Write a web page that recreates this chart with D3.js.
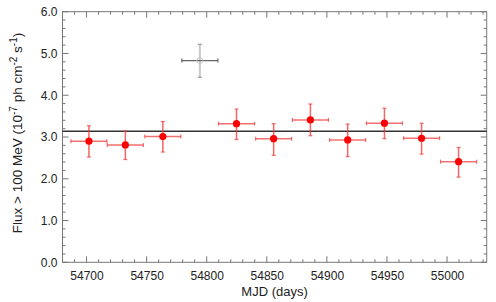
<!DOCTYPE html>
<html>
<head>
<meta charset="utf-8">
<script src="https://cdn.jsdelivr.net/npm/d3@7"></script>
<style>
  body { margin: 0; background: #fff; }
  text { font-family: "Liberation Sans", Arial, sans-serif; }
</style>
</head>
<body>
<div id="chart"></div>
<script>
// light curve bins (MJD centre, flux, errors)
const mjd = [54702, 54732.3, 54763.5, 54824.8, 54855.7, 54886.3, 54917.3, 54947.9, 54978.8, 55009.6];
const flux = [2.90, 2.81, 3.01, 3.32, 2.96, 3.41, 2.93, 3.33, 2.97, 2.41];
const fluxHi = [3.27, 3.14, 3.37, 3.67, 3.32, 3.79, 3.31, 3.69, 3.33, 2.75];
const fluxLo = [2.52, 2.46, 2.64, 2.94, 2.56, 3.03, 2.53, 2.96, 2.59, 2.04];
const halfBin = 15;

// the flagged (grey) bin
const outMjd = 54794.3, outFlux = 4.83, outHi = 5.22, outLo = 4.43;

const meanFlux = 3.14;

const xTicks = [54700, 54750, 54800, 54850, 54900, 54950, 55000];
const yTicks = [0, 1, 2, 3, 4, 5, 6];

const margin = {top: 11.7, right: 9.3, bottom: 39.7, left: 62.5},
    width = 496 - margin.left - margin.right,
    height = 302 - margin.top - margin.bottom;

const svg = d3.select("#chart")
    .append("svg")
    .attr("width", 496)
    .attr("height", 302)
    .append("g")
    .attr("transform", `translate(${margin.left},${margin.top})`);

const x = d3.scaleLinear().domain([54680, 55033]).range([0, width]);
const y = d3.scaleLinear().domain([0, 6]).range([height, 0]);

const axisCol = "#777";
const xMinor = d3.range(54680, 55034, 10);
const yMinor = d3.range(0, 6.001, 0.2);

// ticks, all pointing inward
const tk = svg.append("g").attr("stroke", axisCol).attr("stroke-width", 1);
xMinor.forEach(v => {
  const major = xTicks.includes(Math.round(v));
  const l = major ? 6 : 3;
  tk.append("line").attr("x1", x(v)).attr("x2", x(v)).attr("y1", height).attr("y2", height - l);
  tk.append("line").attr("x1", x(v)).attr("x2", x(v)).attr("y1", 0).attr("y2", l);
});
yMinor.forEach(v => {
  const major = Math.abs(v - Math.round(v)) < 1e-6;
  const l = major ? 6 : 3;
  tk.append("line").attr("y1", y(v)).attr("y2", y(v)).attr("x1", 0).attr("x2", l);
  tk.append("line").attr("y1", y(v)).attr("y2", y(v)).attr("x1", width).attr("x2", width - l);
});

// frame
svg.append("rect").attr("width", width).attr("height", height)
    .attr("fill", "none").attr("stroke", axisCol).attr("stroke-width", 1);

// tick labels via d3 axes
const xAxis = svg.append("g")
    .attr("transform", `translate(0, ${height})`)
    .call(d3.axisBottom(x).tickValues(xTicks).tickFormat(d3.format("d")).tickSize(0).tickPadding(9));
const yAxis = svg.append("g")
    .call(d3.axisLeft(y).tickValues(yTicks).tickFormat(d3.format(".1f")).tickSize(0).tickPadding(5));
[xAxis, yAxis].forEach(a => {
  a.select(".domain").remove();
  a.selectAll("text").attr("font-size", "12px").attr("fill", "#222")
      .style("font-family", "'Liberation Sans', Arial, sans-serif");
});

// mean flux line
svg.append("line")
    .attr("x1", 0).attr("x2", width)
    .attr("y1", y(meanFlux)).attr("y2", y(meanFlux))
    .attr("stroke", "#333").attr("stroke-width", 1.5);

// grey point
const g0 = svg.append("g");
g0.append("line").attr("x1", x(outMjd)).attr("x2", x(outMjd)).attr("y1", y(outHi)).attr("y2", y(outLo))
    .attr("stroke", "#c8c8c8").attr("stroke-width", 2);
[outHi, outLo].forEach(v => g0.append("line")
    .attr("x1", x(outMjd) - 2).attr("x2", x(outMjd) + 2).attr("y1", y(v)).attr("y2", y(v))
    .attr("stroke", "#999").attr("stroke-width", 1.2));
g0.append("line").attr("x1", x(outMjd - halfBin)).attr("x2", x(outMjd + halfBin))
    .attr("y1", y(outFlux)).attr("y2", y(outFlux))
    .attr("stroke", "#666").attr("stroke-width", 1.3);
[outMjd - halfBin, outMjd + halfBin].forEach(v => g0.append("line")
    .attr("x1", x(v)).attr("x2", x(v)).attr("y1", y(outFlux) - 2).attr("y2", y(outFlux) + 2)
    .attr("stroke", "#666").attr("stroke-width", 1.2));
g0.append("circle").attr("cx", x(outMjd)).attr("cy", y(outFlux)).attr("r", 3)
    .attr("fill", "none").attr("stroke", "#ccc").attr("stroke-width", 1);

// red points with error bars
const pts = svg.append("g").selectAll("g")
    .data(mjd.map((m, i) => ({m, f: flux[i], hi: fluxHi[i], lo: fluxLo[i]})))
    .join("g");
const red = "#ee3333";
pts.append("line").attr("x1", d => x(d.m)).attr("x2", d => x(d.m))
    .attr("y1", d => y(d.hi)).attr("y2", d => y(d.lo))
    .attr("stroke", red).attr("stroke-opacity", 0.75).attr("stroke-width", 1.5);
pts.append("line").attr("x1", d => x(d.m - halfBin)).attr("x2", d => x(d.m + halfBin))
    .attr("y1", d => y(d.f)).attr("y2", d => y(d.f))
    .attr("stroke", red).attr("stroke-opacity", 0.7).attr("stroke-width", 1.5);
["hi", "lo"].forEach(k => pts.append("line")
    .attr("x1", d => x(d.m) - 2).attr("x2", d => x(d.m) + 2)
    .attr("y1", d => y(d[k])).attr("y2", d => y(d[k]))
    .attr("stroke", red).attr("stroke-opacity", 0.7).attr("stroke-width", 1.2));
[-halfBin, halfBin].forEach(o => pts.append("line")
    .attr("x1", d => x(d.m + o)).attr("x2", d => x(d.m + o))
    .attr("y1", d => y(d.f) - 2).attr("y2", d => y(d.f) + 2)
    .attr("stroke", red).attr("stroke-opacity", 0.7).attr("stroke-width", 1.2));
pts.append("circle").attr("cx", d => x(d.m)).attr("cy", d => y(d.f)).attr("r", 3.6)
    .attr("fill", "#ff0000");

// axis titles
svg.append("text")
    .attr("x", width / 2).attr("y", height + 34)
    .attr("text-anchor", "middle").attr("font-size", "13px").attr("fill", "#222")
    .text("MJD (days)");

const yl = svg.append("text")
    .attr("transform", `translate(${22 - margin.left}, ${133 - margin.top}) rotate(-90)`)
    .attr("text-anchor", "middle").attr("font-size", "13.5px").attr("fill", "#222");
yl.append("tspan").text("Flux > 100 MeV (10");
yl.append("tspan").attr("dy", -5).attr("font-size", "10px").text("-7");
yl.append("tspan").attr("dy", 5).text(" ph cm");
yl.append("tspan").attr("dy", -5).attr("font-size", "10px").text("-2");
yl.append("tspan").attr("dy", 5).text(" s");
yl.append("tspan").attr("dy", -5).attr("font-size", "10px").text("-1");
yl.append("tspan").attr("dy", 5).text(")");
</script>
</body>
</html>
